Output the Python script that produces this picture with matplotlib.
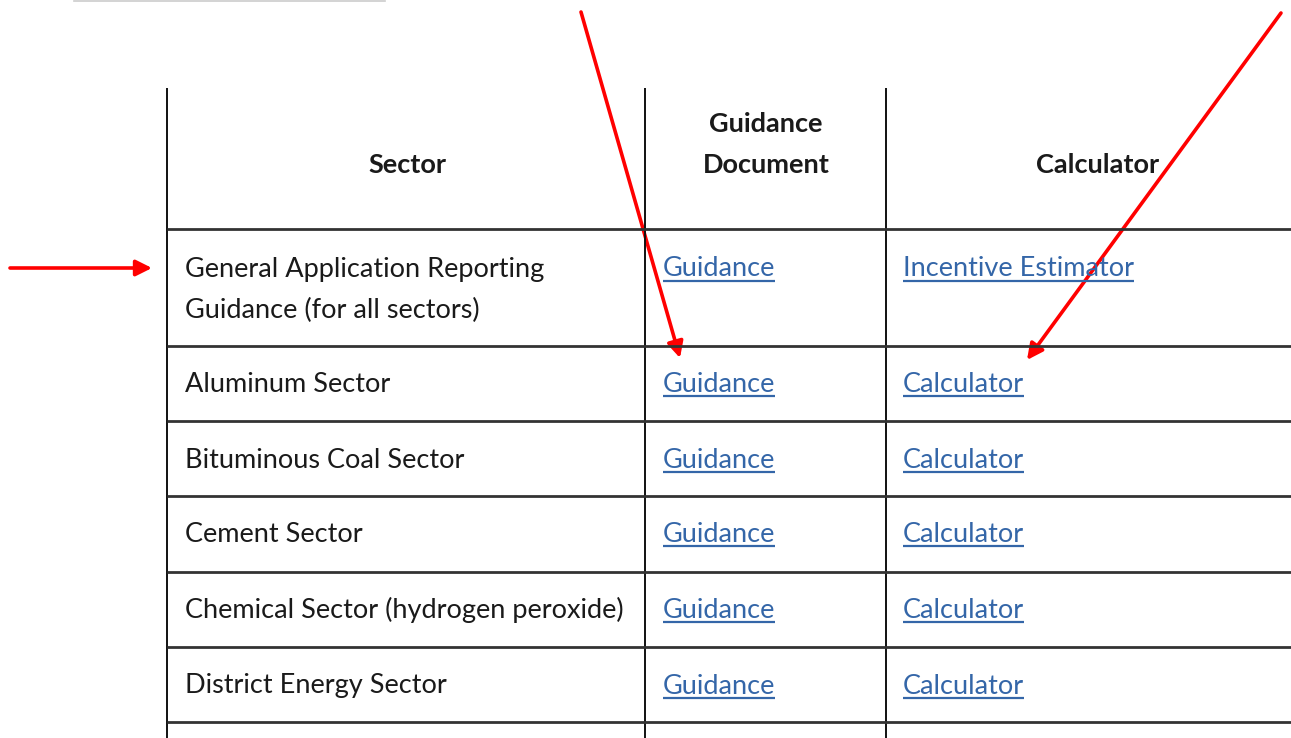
import matplotlib
matplotlib.use("Agg")
import matplotlib.pyplot as plt
from matplotlib.patches import FancyArrowPatch

# ---- data ----
headers = ["Sector", "Guidance\nDocument", "Calculator"]
sectors = [
    "General Application Reporting\nGuidance (for all sectors)",
    "Aluminum Sector",
    "Bituminous Coal Sector",
    "Cement Sector",
    "Chemical Sector (hydrogen peroxide)",
    "District Energy Sector",
]
guidance_links = ["Guidance"] * 6
calculator_links = ["Incentive Estimator", "Calculator", "Calculator",
                    "Calculator", "Calculator", "Calculator"]

# ---- layout (pixels) ----
W, H = 1291, 738
fig = plt.figure(figsize=(W / 100, H / 100), dpi=100)
ax = fig.add_axes([0, 0, 1, 1])
ax.set_xlim(0, W)
ax.set_ylim(H, 0)
ax.axis("off")

FONT = "Lato"
FS = 19.5
link_color = "#3466A8"
text_color = "#1a1a1a"

col_x = [167, 645, 886]
row_y = [229, 346, 421, 496, 572, 647, 722]
top_y = 88

# vertical lines
for x in col_x:
    ax.plot([x, x], [top_y, H + 5], color="#111111", lw=1.4, solid_capstyle="butt")
# horizontal lines
for y in row_y:
    ax.plot([col_x[0], W + 5], [y, y], color="#333333", lw=2.0, solid_capstyle="butt")

# faint line at top
ax.plot([74, 385], [0.8, 0.8], color="#cccccc", lw=1.2)

# headers
ax.text(407, 165, headers[0], ha="center", va="center", fontsize=FS,
        fontweight="bold", family=FONT, color=text_color)
for k, ln in enumerate(headers[1].split("\n")):
    ax.text(766, 124 + 41 * k, ln, ha="center", va="center", fontsize=FS,
            fontweight="bold", family=FONT, color=text_color)
ax.text(1098, 165, headers[2], ha="center", va="center", fontsize=FS,
        fontweight="bold", family=FONT, color=text_color)

row_centers = [269, 384, 460, 534, 610, 686]
renderer = fig.canvas.get_renderer()


def link(x, y, s):
    t = ax.text(x, y, s, ha="left", va="center", fontsize=FS, family=FONT,
                color=link_color)
    bb = t.get_window_extent(renderer=renderer)
    inv = ax.transData.inverted()
    (x0, _), (x1, _) = inv.transform([[bb.x0, bb.y0], [bb.x1, bb.y1]])
    ax.plot([x0, x1], [y + 12, y + 12], color=link_color, lw=1.6,
            solid_capstyle="butt")


for i, (s, g, c) in enumerate(zip(sectors, guidance_links, calculator_links)):
    yc = row_centers[i]
    for k, ln in enumerate(s.split("\n")):
        ax.text(185, yc + 41 * k, ln, ha="left", va="center", fontsize=FS,
                family=FONT, color=text_color)
    link(663, yc, g)
    link(903, yc, c)

# arrows
red = "#FF0000"
for (x0, y0), (x1, y1) in [((10, 268), (152, 268)),
                           ((581, 12), (680, 358)),
                           ((1281, 13), (1027, 360))]:
    ax.add_patch(FancyArrowPatch((x0, y0), (x1, y1), arrowstyle="-|>",
                                 mutation_scale=24, color=red, lw=2.6,
                                 shrinkA=0, shrinkB=0))

fig.savefig("out.png", dpi=100, facecolor="white")
